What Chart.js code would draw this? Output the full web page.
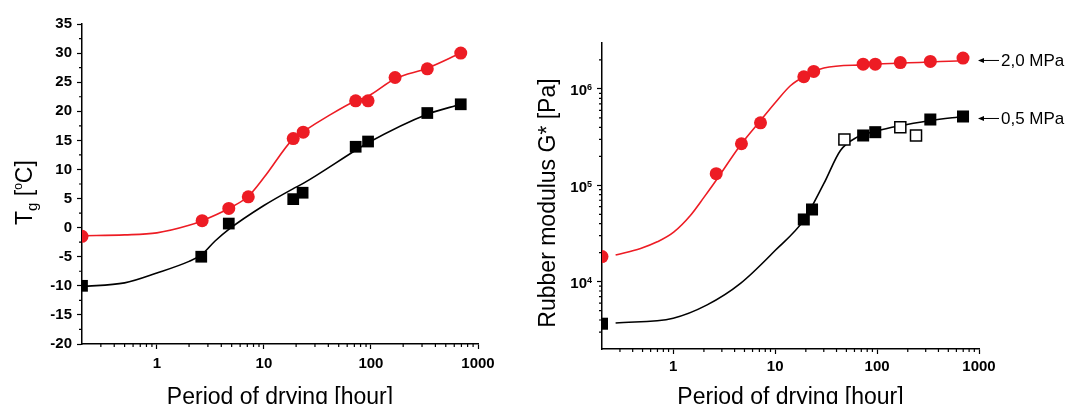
<!DOCTYPE html>
<html>
<head>
<meta charset="utf-8">
<script src="https://cdn.jsdelivr.net/npm/chart.js@4/dist/chart.umd.min.js"></script>
<style>
  body { margin: 0; background: #fff; width: 1071px; height: 404px; overflow: hidden; position: relative; }
  .panel { position: absolute; top: 0; height: 404px; }
  #leftPanel { left: 0; width: 520px; }
  #rightPanel { left: 520px; width: 551px; }
</style>
</head>
<body>
<div class="panel" id="leftPanel"><canvas id="tgChart"></canvas></div>
<div class="panel" id="rightPanel"><canvas id="modChart"></canvas></div>
<script>
// x axis (both panels)
const xMajor = [1, 10, 100, 1000];

// left panel: Tg vs period of drying
const tgTicks = [-20, -15, -10, -5, 0, 5, 10, 15, 20, 25, 30, 35];
const tgRedHours = [0.2, 2.65, 4.7, 7.15, 18.8, 23.3, 72, 94, 168, 336, 690];
const tgRedValues = [-1.5, 1.2, 3.3, 5.3, 15.3, 16.4, 21.8, 21.8, 25.8, 27.3, 30.0];
const tgBlackHours = [0.2, 2.6, 4.7, 18.8, 23, 72, 94, 336, 690];
const tgBlackValues = [-10, -5, 0.7, 4.9, 6.0, 13.9, 14.8, 19.7, 21.2];
const tgRedFitHours = [0.2, 0.5, 1, 2, 2.65, 4.7, 7.15, 10, 18.8, 23.3, 40, 72, 94, 168, 336, 690];
const tgRedFitValues = [-1.4, -1.25, -0.9, 0.4, 1.2, 3.3, 5.4, 8.6, 15.3, 16.5, 19.2, 21.8, 22.6, 25.6, 27.4, 30.0];
const tgBlackFitHours = [0.2, 0.5, 1, 2, 2.6, 3.5, 4.7, 10, 18.8, 23.3, 72, 94, 336, 690];
const tgBlackFitValues = [-10.1, -9.5, -7.8, -5.8, -4.7, -2.3, -0.3, 3.8, 6.7, 7.6, 13.3, 14.6, 19.5, 21.2];

// right panel: rubber modulus vs period of drying
const gTicks = [1e4, 1e5, 1e6];
const gRedHours = [0.2, 2.64, 4.67, 7.18, 19.1, 23.9, 73, 96, 169, 333, 697];
const gRedValues = [1.82e4, 1.32e5, 2.70e5, 4.45e5, 1.34e6, 1.52e6, 1.81e6, 1.81e6, 1.88e6, 1.93e6, 2.09e6];
const gBlackHours = [0.2, 19.1, 23, 73, 96, 333, 697];
const gBlackValues = [3.66e3, 4.42e4, 5.61e4, 3.29e5, 3.56e5, 4.82e5, 5.18e5];
const gOpenHours = [47.8, 169, 241];
const gOpenValues = [2.99e5, 4.01e5, 3.29e5];
const gRedFitHours = [0.272, 0.478, 0.697, 1.01, 1.48, 2.0, 2.64, 4.67, 7.18, 10.1, 14.1, 19.1, 30, 73, 697];
const gRedFitValues = [1.89e4, 2.21e4, 2.59e4, 3.27e4, 4.9e4, 7.5e4, 1.13e5, 2.7e5, 4.7e5, 7.28e5, 1.08e6, 1.34e6, 1.65e6, 1.78e6, 1.96e6];
const gBlackFitHours = [0.272, 1.0, 2.15, 4.57, 10.1, 19.1, 30, 43.7, 63.6, 96, 333, 697];
const gBlackFitValues = [3.72e3, 4.18e3, 5.74e3, 9.6e3, 2.13e4, 4.35e4, 1.04e5, 2.3e5, 3.16e5, 3.64e5, 4.7e5, 5.18e5];
const plateauLabels = ["2,0 MPa", "0,5 MPa"];
const plateauValues = [2.0e6, 5.0e5];

const RED = "#ed1c24";
const FONT = "'Liberation Sans', Arial, sans-serif";

const pts = (xs, ys) => xs.map((x, i) => ({ x: x, y: ys[i] }));

// minor tick positions (axis decoration only)
const xMinor = [];
[0.1, 1, 10, 100].forEach(d => {
  for (let m = 2; m <= 9; m++) if (m * d > 0.2 && m * d < 1000) xMinor.push(m * d);
});
const tgMinor = [];
for (let v = -17.5; v < 35; v += 5) tgMinor.push(v);
const gMinor = [];
[1e3, 1e4, 1e5, 1e6].forEach(d => {
  for (let m = 2; m <= 9; m++) if (m * d > 2000 && m * d < 3e6) gMinor.push(m * d);
});

function drawMinor(chart, id, values, len) {
  const s = chart.scales[id];
  const a = chart.chartArea;
  const ctx = chart.ctx;
  ctx.save();
  ctx.strokeStyle = "#000";
  ctx.lineWidth = 1.2;
  ctx.beginPath();
  values.forEach(v => {
    const p = s.getPixelForValue(v);
    if (s.isHorizontal()) { ctx.moveTo(p, a.bottom); ctx.lineTo(p, a.bottom + len); }
    else { ctx.moveTo(a.left, p); ctx.lineTo(a.left - len, p); }
  });
  ctx.stroke();
  ctx.restore();
}

function xTitle(chart) {
  const a = chart.chartArea;
  const ctx = chart.ctx;
  ctx.save();
  ctx.fillStyle = "#000";
  ctx.font = "23px " + FONT;
  ctx.textAlign = "center";
  ctx.textBaseline = "alphabetic";
  ctx.fillText("Period of drying [hour]", (a.left + a.right) / 2, 404);
  ctx.restore();
}

const tickStyle = { color: "#000", font: { family: FONT, size: 15, weight: "bold" }, maxRotation: 0, autoSkip: false };
const gridStyle = { drawOnChartArea: false, drawTicks: true, tickLength: 5, tickColor: "#000", tickWidth: 1.2 };
const borderStyle = { color: "#000", width: 1.5 };

function xAxis(height, pad) {
  return {
    type: "logarithmic", min: 0.2, max: 1000,
    afterBuildTicks: s => { s.ticks = xMajor.map(v => ({ value: v })); },
    afterFit: s => { s.height = height; },
    ticks: Object.assign({}, tickStyle, { padding: pad, callback: v => String(v) }),
    grid: gridStyle,
    border: borderStyle
  };
}

// smooth fitted curve, drawn as a line dataset
const lineSet = (data, color) => ({
  type: "line", data: data, showLine: true, pointRadius: 0, borderColor: color, borderWidth: 1.6,
  cubicInterpolationMode: "monotone", fill: false
});

// left chart
new Chart(document.getElementById("tgChart"), {
  type: "scatter",
  data: {
    datasets: [
      { data: pts(tgRedHours, tgRedValues), pointStyle: "circle", pointRadius: 6.5, backgroundColor: RED, borderWidth: 0, clip: 0 },
      { data: pts(tgBlackHours, tgBlackValues), pointStyle: "rect", pointRadius: 8.3, backgroundColor: "#000", borderWidth: 0, clip: 0 },
      lineSet(pts(tgRedFitHours, tgRedFitValues), RED),
      lineSet(pts(tgBlackFitHours, tgBlackFitValues), "#000")
    ]
  },
  options: {
    responsive: true,
    maintainAspectRatio: false,
    animation: false,
    events: [],
    layout: { padding: { top: 24, right: 42, left: 0, bottom: 0 } },
    plugins: { legend: { display: false }, tooltip: { enabled: false } },
    scales: {
      x: xAxis(60, 6),
      y: {
        type: "linear", min: -20, max: 35,
        afterBuildTicks: s => { s.ticks = tgTicks.map(v => ({ value: v })); },
        afterFit: s => { s.width = 82; },
        ticks: Object.assign({}, tickStyle, { padding: 5, callback: v => String(v) }),
        grid: gridStyle,
        border: borderStyle
      }
    }
  },
  plugins: [{
    id: "tgDecor",
    afterDraw(chart) {
      drawMinor(chart, "x", xMinor, 3);
      drawMinor(chart, "y", tgMinor, 3);
      xTitle(chart);
      // T_g [°C], rotated
      const ctx = chart.ctx;
      ctx.save();
      ctx.fillStyle = "#000";
      ctx.translate(31.5, 225);
      ctx.rotate(-Math.PI / 2);
      ctx.textAlign = "left";
      ctx.textBaseline = "alphabetic";
      let x = 0;
      const part = (txt, size, dy) => {
        ctx.font = size + "px " + FONT;
        ctx.fillText(txt, x, dy);
        x += ctx.measureText(txt).width;
      };
      part("T", 23, 0);
      part("g", 15, 5);
      part(" [", 23, 0);
      part("o", 12, -10);
      part("C]", 23, 0);
      ctx.restore();
    }
  }]
});

// right chart
new Chart(document.getElementById("modChart"), {
  type: "scatter",
  data: {
    datasets: [
      { data: pts(gRedHours, gRedValues), pointStyle: "circle", pointRadius: 6.5, backgroundColor: RED, borderWidth: 0, clip: 0 },
      { data: pts(gBlackHours, gBlackValues), pointStyle: "rect", pointRadius: 8.5, backgroundColor: "#000", borderWidth: 0, clip: 0 },
      { data: pts(gOpenHours, gOpenValues), pointStyle: "rect", pointRadius: 7.8, backgroundColor: "#fff", borderColor: "#000", borderWidth: 1.5, clip: 0 },
      lineSet(pts(gRedFitHours, gRedFitValues), RED),
      lineSet(pts(gBlackFitHours, gBlackFitValues), "#000")
    ]
  },
  options: {
    responsive: true,
    maintainAspectRatio: false,
    animation: false,
    events: [],
    layout: { padding: { top: 43, right: 92, left: 0, bottom: 0 } },
    plugins: { legend: { display: false }, tooltip: { enabled: false } },
    scales: {
      x: xAxis(55, 4),
      y: {
        type: "logarithmic", min: 2000, max: 3e6,
        afterBuildTicks: s => { s.ticks = gTicks.map(v => ({ value: v })); },
        afterFit: s => { s.width = 82; },
        ticks: { display: false },
        grid: gridStyle,
        border: borderStyle
      }
    }
  },
  plugins: [{
    id: "modDecor",
    afterDraw(chart) {
      drawMinor(chart, "x", xMinor, 3);
      drawMinor(chart, "y", gMinor, 3);
      xTitle(chart);
      const ctx = chart.ctx;
      const a = chart.chartArea;
      const ys = chart.scales.y;
      ctx.save();
      ctx.fillStyle = "#000";
      ctx.strokeStyle = "#000";
      // 10^n tick labels
      ctx.textAlign = "right";
      ctx.textBaseline = "alphabetic";
      gTicks.forEach(v => {
        const y = ys.getPixelForValue(v);
        const exp = String(Math.round(Math.log10(v)));
        const right = a.left - 10;
        ctx.font = "bold 9px " + FONT;
        const ew = ctx.measureText(exp).width;
        ctx.fillText(exp, right, y + 1.5);
        ctx.font = "bold 15px " + FONT;
        ctx.fillText("10", right - ew, y + 6.5);
      });
      // y title
      ctx.save();
      ctx.translate(35, 203);
      ctx.rotate(-Math.PI / 2);
      ctx.textAlign = "center";
      ctx.font = "23px " + FONT;
      ctx.fillText("Rubber modulus G* [Pa]", 0, 0);
      ctx.restore();
      // plateau arrows
      ctx.font = "17px " + FONT;
      ctx.textAlign = "left";
      ctx.textBaseline = "middle";
      ctx.lineWidth = 1;
      plateauValues.forEach((v, i) => {
        const y = ys.getPixelForValue(v) + 0.5;
        const x0 = a.right - 1;
        ctx.beginPath();
        ctx.moveTo(x0 + 4, y);
        ctx.lineTo(x0 + 21, y);
        ctx.stroke();
        ctx.beginPath();
        ctx.moveTo(x0, y);
        ctx.lineTo(x0 + 6, y - 2.5);
        ctx.lineTo(x0 + 6, y + 2.5);
        ctx.closePath();
        ctx.fill();
        ctx.fillText(plateauLabels[i], x0 + 23, y + 1);
      });
      ctx.restore();
    }
  }]
});
</script>
</body>
</html>
